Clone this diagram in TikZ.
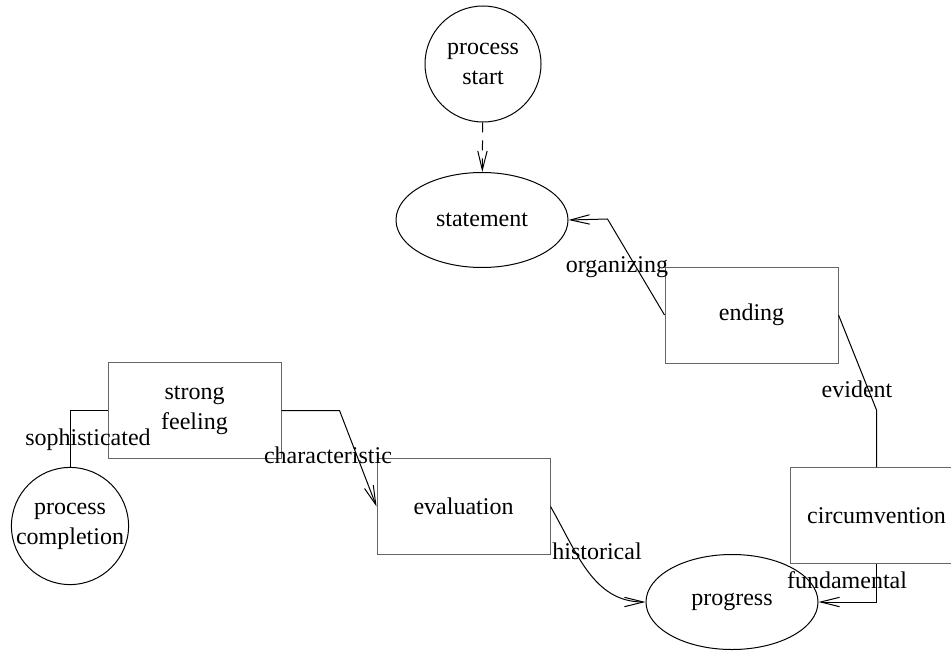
\documentclass[tikz,border=0pt]{standalone}
\usepackage{fontspec}
\setmainfont{Liberation Serif}
\usetikzlibrary{shapes.geometric,arrows.meta}

\begin{document}
\begin{tikzpicture}[x=0.5pt,y=-0.5pt,line width=0.5pt,
  every node/.style={font=\fontsize{12}{15}\selectfont},
  flowbox/.style={draw=black!60,rectangle,minimum width=86.5pt,minimum height=48pt,inner sep=0pt,align=center},
  ovalnode/.style={draw,ellipse,minimum width=86pt,minimum height=47.5pt,inner sep=0pt},
  termnode/.style={draw,circle,minimum size=58pt,inner sep=0pt,align=center},
  edgelabel/.style={anchor=base,inner sep=0pt},
  barb/.style={-{Straight Barb[length=9.5pt,width=4.7pt]}}]
  \useasboundingbox (0,0) rectangle (951,652);
  % nodes
  \node[termnode] (pstart) at (483,64) {process\\start};
  \node[ovalnode] (statement) at (482,220) {statement};
  \node[flowbox] (ending) at (751.5,315) {ending};
  \node[flowbox] (feeling) at (194.5,410.5) {strong\\feeling};
  \node[flowbox] (evaluation) at (463.5,506.5) {evaluation};
  \node[flowbox] (circum) at (876.5,515.5) {circumvention};
  \node[ovalnode] (progress) at (732,602) {progress};
  \node[termnode] (pdone) at (70,526) {process\\completion};
  % connectors
  \draw[barb,dash pattern=on 5pt off 4pt] (pstart) -- (statement);
  \draw[barb] (ending.west) -- ++(-57,-96) -- (statement.east);
  \draw (ending.east) -- ++(38,95) -- (circum.north);
  \draw[barb] (circum.south) |- (progress.east);
  \draw[barb] (evaluation.east) to[out=-60,in=180] (progress.west);
  \draw[barb] (feeling.east) -- ++(58,0) -- (evaluation.west);
  \draw (feeling.west) -| (pdone.north);
  % edge labels
  \node[edgelabel] (lorg) at (617,272) {organizing};
  \node[edgelabel] (levi) at (857,397) {evident};
  \node[edgelabel] (lfun) at (847,588) {fundamental};
  \node[edgelabel] (lhis) at (597,559) {historical};
  \node[edgelabel] (lcha) at (328,463) {characteristic};
  \node[edgelabel] (lsop) at (88,445) {sophisticated};
\end{tikzpicture}
\end{document}
